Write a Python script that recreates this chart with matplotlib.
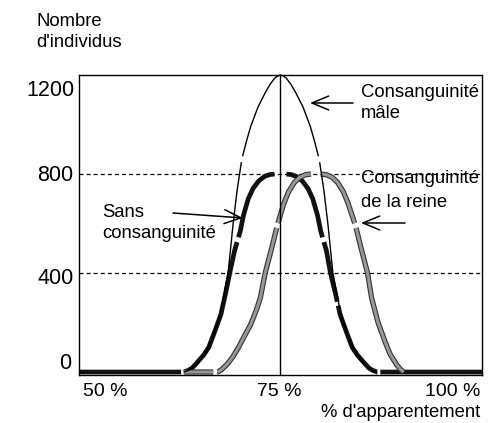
import numpy as np
import matplotlib
matplotlib.use('Agg')
import matplotlib.pyplot as plt
from matplotlib.transforms import ScaledTranslation
import matplotlib.patheffects as pe

plt.rcParams['font.family'] = ['Liberation Sans', 'DejaVu Sans']
plt.rcParams['lines.scale_dashes'] = False

# ---------------- data ----------------
# "Sans consanguinité" (thick black)
sans_x = [50, 62.7, 63.0, 63.5, 64.0, 64.7, 65.5, 66.1, 66.8, 67.6, 68.2, 68.7, 69.3, 70.0,
          70.4, 71.0, 71.6, 72.3, 73.0, 73.7, 74.4, 75.0, 75.6, 76.3, 77.0, 77.7, 78.4,
          79.0, 79.6, 80.0, 80.7, 81.2, 81.8, 82.4, 83.2, 83.9, 84.5, 85.3, 86.0, 86.5,
          87.0, 87.4, 100]
sans_y = [0, 0, 0, 6, 15, 40, 70, 100, 160, 232, 320, 400, 490, 568,
          632, 700, 742, 772, 790, 798, 800, 800, 800, 798, 790, 772, 742,
          700, 632, 568, 490, 400, 320, 232, 160, 100, 70, 40, 15, 6,
          0, 0, 0]

# "Consanguinité mâle" (thin black)
male_x = [63.0, 63.5, 64.0, 65.0, 66.1, 66.8, 67.5, 68.5, 69.1, 69.6, 70.2, 70.8, 71.3,
          72.2, 73.1, 73.7, 74.3, 74.7, 75.0, 75.3, 75.7, 76.3, 76.9, 77.8, 78.7, 79.2,
          79.8, 80.4, 80.9, 81.5, 82.5, 83.2, 83.9, 85.0, 86.0, 86.5, 87.0]
male_y = [0, 5, 15, 45, 100, 160, 230, 400, 592, 730, 860, 935, 992,
          1070, 1128, 1162, 1188, 1197, 1200, 1197, 1188, 1162, 1128, 1070, 992, 935,
          860, 730, 592, 400, 230, 160, 100, 45, 15, 5, 0]

# "Consanguinité de la reine" (thick grey)
reine_x = [63.0, 66.6, 67.2, 67.7, 68.4, 69.1, 69.8, 70.6, 71.3, 72.0, 72.5, 73.1, 73.9,
           74.6, 75.4, 76.0, 76.7, 77.4, 78.1, 78.8, 79.4, 80.0, 80.7, 81.4, 82.1, 82.8,
           83.4, 84.3, 85.0, 85.8, 86.3, 87.1, 88.0, 88.6, 89.4, 89.9, 90.3]
reine_y = [0, 0, 0, 10, 32, 62, 100, 150, 192, 250, 300, 400, 500,
           592, 680, 728, 765, 787, 797, 800, 800, 800, 797, 787, 765, 728,
           680, 592, 500, 400, 300, 200, 120, 72, 30, 10, 0]

y_ticks = [0, 400, 800, 1200]
y_tick_labels = ['0', '400', '800', '1200']
x_ticks = [50, 75, 100]
x_tick_labels = ['50 %', '75 %', '100 %']
ref_levels = [400, 800]
center_line = 75

# ---------------- figure ----------------
W, H, DPI = 499, 423, 100
fig = plt.figure(figsize=(W / DPI, H / DPI), dpi=DPI)
fig.patch.set_facecolor('white')
ax = fig.add_axes([79 / W, 1 - 375 / H, 403 / W, 300 / H])
ax.set_xlim(50, 100)
ax.set_ylim(-12, 1200)


def gapped_plot(x, y, gaps, **kw):
    """Plot the polyline and cut short gaps (given as x position, length px)."""
    line, = ax.plot(x, y, **kw)
    pts = ax.transData.transform(np.column_stack([x, y]))
    seg = np.hypot(*np.diff(pts, axis=0).T)
    cum = np.concatenate([[0], np.cumsum(seg)])
    total = cum[-1]
    pattern, pos = [], 0.0
    for gx, glen in gaps:
        c = np.interp(gx, x, cum)
        start = c - glen / 2
        pattern += [start - pos, glen]
        pos = start + glen
    pattern += [total - pos + 30, 1]
    k = 72 / DPI
    line.set_dashes([p * k for p in pattern])
    return line


# reference lines
for lvl in ref_levels:
    ax.axhline(lvl, color='black', lw=0.9, dashes=(2.9, 2.2), zorder=1)
ax.axvline(center_line, color='black', lw=1.0, zorder=5)

# curves
gapped_plot(sans_x, sans_y, [(62.85, 3), (69.7, 5), (75.0, 12), (80.3, 5), (82.1, 4), (87.2, 3)],
            color='#111111', lw=3.4, zorder=2, dash_joinstyle='round', clip_on=False)
gapped_plot(reine_x, reine_y, [(66.9, 4), (74.6, 5), (79.4, 10), (84.3, 5)],
            color='#979797', lw=2.2, zorder=3, dash_joinstyle='round', clip_on=False,
            path_effects=[pe.Stroke(linewidth=3.8, foreground='#333333'), pe.Normal()])
gapped_plot(male_x, male_y, [(70.2, 6), (79.8, 6)],
            color='black', lw=1.0, zorder=4, clip_on=False)

# spines
for s in ax.spines.values():
    s.set_linewidth(1.0)
    s.set_color('black')

# ticks
ax.set_yticks(y_ticks, y_tick_labels)
ax.set_xticks(x_ticks, x_tick_labels)
ax.tick_params(axis='both', length=0)
ax.tick_params(axis='y', labelsize=15.5, pad=3.6)
ax.tick_params(axis='x', labelsize=14, pad=5.4)

y_off = {0: (-3, 11), 400: (0, -3), 800: (-1, 1), 1200: (0, -13)}
for val, tick in zip(y_ticks, ax.yaxis.get_major_ticks()):
    dx, dy = y_off[val]
    tick.label1.set_transform(tick.label1.get_transform() +
                              ScaledTranslation(dx / DPI, dy / DPI, fig.dpi_scale_trans))

x_set = {50: ('left', 4), 75: ('center', -1.5), 100: ('right', -2)}
for val, tick in zip(x_ticks, ax.xaxis.get_major_ticks()):
    ha, dx = x_set[val]
    tick.label1.set_ha(ha)
    tick.label1.set_transform(tick.label1.get_transform() +
                              ScaledTranslation(dx / DPI, 0, fig.dpi_scale_trans))

# texts
fs = 13.3


def ftext(px, py, s, **kw):
    fig.text(px / W, 1 - py / H, s, fontsize=fs, va='baseline', **kw)


ftext(36, 26, 'Nombre')
ftext(36, 47, "d'individus")
ftext(361, 97, 'Consanguinité')
ftext(361, 118, 'mâle')
ftext(361, 183, 'Consanguinité')
ftext(361, 207, 'de la reine')
ftext(102, 217, 'Sans')
ftext(102, 238, 'consanguinité')
ftext(480, 417, "% d'apparentement", ha='right')


def arrow(tail, head):
    ax.annotate('', xy=(head[0] / W, 1 - head[1] / H), xytext=(tail[0] / W, 1 - tail[1] / H),
                xycoords='figure fraction', textcoords='figure fraction',
                arrowprops=dict(arrowstyle='->,head_length=1.2,head_width=0.5',
                                lw=1.1, color='black', shrinkA=0, shrinkB=0))


arrow((353, 103), (310, 103))
arrow((405, 223), (361, 223))
arrow((173, 213), (243, 218))

fig.savefig('out.png', dpi=DPI)
